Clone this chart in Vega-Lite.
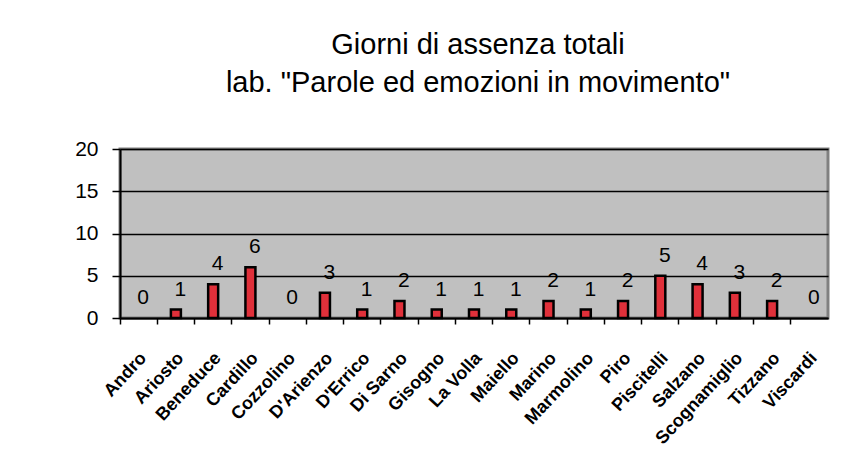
{
  "$schema": "https://vega.github.io/schema/vega-lite/v6.json",
  "width": 708,
  "height": 169,
  "autosize": "none",
  "padding": {"left": 120, "top": 149, "right": 18, "bottom": 149},
  "background": "white",
  "title": {
    "text": ["Giorni di assenza totali", "lab. \"Parole ed emozioni in movimento\""],
    "font": "Liberation Sans",
    "fontSize": 29,
    "fontWeight": "normal",
    "lineHeight": 38,
    "color": "black",
    "anchor": "middle",
    "frame": "group",
    "dx": 4,
    "offset": 40
  },
  "data": {
    "values": [
      {"nome": "Andro", "giorni": 0},
      {"nome": "Ariosto", "giorni": 1},
      {"nome": "Beneduce", "giorni": 4},
      {"nome": "Cardillo", "giorni": 6},
      {"nome": "Cozzolino", "giorni": 0},
      {"nome": "D'Arienzo", "giorni": 3},
      {"nome": "D'Errico", "giorni": 1},
      {"nome": "Di Sarno", "giorni": 2},
      {"nome": "Gisogno", "giorni": 1},
      {"nome": "La Volla", "giorni": 1},
      {"nome": "Maiello", "giorni": 1},
      {"nome": "Marino", "giorni": 2},
      {"nome": "Marmolino", "giorni": 1},
      {"nome": "Piro", "giorni": 2},
      {"nome": "Piscitelli", "giorni": 5},
      {"nome": "Salzano", "giorni": 4},
      {"nome": "Scognamiglio", "giorni": 3},
      {"nome": "Tizzano", "giorni": 2},
      {"nome": "Viscardi", "giorni": 0}
    ]
  },
  "encoding": {
    "x": {
      "field": "nome",
      "type": "nominal",
      "sort": null,
      "bandPosition": 0.62,
      "scale": {
        "domain": ["Andro", "Ariosto", "Beneduce", "Cardillo", "Cozzolino", "D'Arienzo", "D'Errico", "Di Sarno", "Gisogno", "La Volla", "Maiello", "Marino", "Marmolino", "Piro", "Piscitelli", "Salzano", "Scognamiglio", "Tizzano", "Viscardi"],
        "paddingInner": 0,
        "paddingOuter": 0
      },
      "axis": {
        "title": null,
        "labelAngle": -47,
        "labelAlign": "right",
        "labelBaseline": "middle",
        "labelFont": "Liberation Sans",
        "labelFontWeight": "bold",
        "labelFontSize": 18,
        "labelColor": "black",
        "labelPadding": 31,
        "labelOffset": 5,
        "bandPosition": 0,
        "ticks": true,
        "tickColor": "black",
        "tickWidth": 1.5,
        "tickSize": 6,
        "domainColor": "black",
        "domainWidth": 2,
        "grid": false
      }
    },
    "y": {
      "field": "giorni",
      "type": "quantitative",
      "scale": {"domain": [0, 20], "nice": false},
      "axis": {
        "title": null,
        "values": [0, 5, 10, 15, 20],
        "labelFont": "Liberation Sans",
        "labelFontSize": 21,
        "labelColor": "black",
        "labelPadding": 14,
        "tickColor": "black",
        "tickSize": 8,
        "tickWidth": 1.5,
        "domainColor": "black",
        "domainWidth": 2,
        "gridColor": "black",
        "gridWidth": 1.5,
        "gridOpacity": 1
      }
    }
  },
  "layer": [
    {
      "transform": [{"filter": "datum.giorni > 0"}],
      "mark": {"type": "bar", "width": 10, "color": "#e0303a", "stroke": "black", "strokeWidth": 2.5}
    },
    {
      "mark": {"type": "text", "baseline": "alphabetic", "dy": -14, "font": "Liberation Sans", "fontSize": 21, "color": "black"},
      "encoding": {"text": {"field": "giorni", "type": "quantitative"}}
    }
  ],
  "config": {
    "view": {"fill": "#c0c0c0", "stroke": "#808080", "strokeWidth": 3}
  }
}
